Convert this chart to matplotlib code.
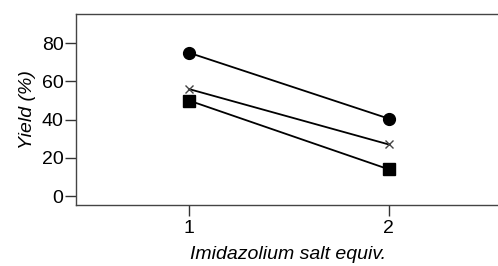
import matplotlib.pyplot as plt

plt.rcParams['font.family'] = ['Liberation Sans', 'DejaVu Sans']

equiv = [1, 2]
yield_circle = [75, 40.5]
yield_cross = [56, 27]
yield_square = [50, 14]

fig = plt.figure(figsize=(4.98, 2.66), dpi=100)
ax = fig.add_axes([0.1526, 0.229, 0.853, 0.718])

ax.plot(equiv, yield_circle, color='black', linewidth=1.3, marker='o', markersize=8.5, clip_on=False)
ax.plot(equiv, yield_cross, color='black', linewidth=1.3, marker='x', markersize=6,
        markeredgecolor='#444444', markeredgewidth=1.0, clip_on=False)
ax.plot(equiv, yield_square, color='black', linewidth=1.3, marker='s', markersize=8, clip_on=False)

ax.set_xlim(0.435, 2.56)
ax.set_ylim(-4.7, 95.2)
ax.set_xticks(equiv)
ax.set_yticks([0, 20, 40, 60, 80])
ax.tick_params(axis='both', direction='out', length=8, width=1, color='#333333', labelsize=14)
ax.tick_params(axis='y', pad=1)
ax.tick_params(axis='x', pad=3)

for s in ax.spines.values():
    s.set_color('#444444')
    s.set_linewidth(1)

ax.set_ylabel('Yield (%)', fontsize=14, style='italic', labelpad=4)
ax.set_xlabel('Imidazolium salt equiv.', fontsize=14, style='italic', labelpad=6)

fig.savefig('out.png', dpi=100)
